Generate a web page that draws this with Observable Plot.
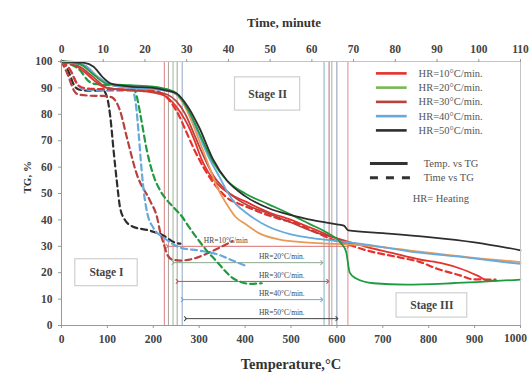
<!DOCTYPE html>
<html>
<head>
<meta charset="utf-8">
<script src="https://cdn.jsdelivr.net/npm/d3@7"></script>
<script src="https://cdn.jsdelivr.net/npm/@observablehq/plot@0.6"></script>
<style>
  html, body { margin: 0; padding: 0; background: #fff; }
  #chart { width: 530px; height: 381px; }
</style>
</head>
<body>
<div id="chart"></div>
<script>
// ---------- DATA ----------
const seriesNames = ["HR=10°C/min.", "HR=20°C/min.", "HR=30°C/min.", "HR=40°C/min.", "HR=50°C/min."];

// Temperature (°C) vs TG (%) — solid curves
const hr10Temp = [[0,100],[30,98.5],[50,96],[70,93],[90,90.5],[120,89.5],[160,89],[200,88.2],[225,87],[245,84],[260,80.5],[275,76],[290,70],[305,63],[320,58],[340,53.5],[370,49.5],[400,47],[450,43],[500,40],[550,36.5],[600,33],[620,32],[660,30],[720,27.5],[780,25],[830,23.5],[870,21.5],[905,19],[930,17],[948,17]];
const hr20Temp = [[0,100],[40,99],[70,95],[100,91.5],[150,91],[200,90.5],[230,89.5],[250,88],[275,82],[300,73],[330,62],[360,55],[400,50],[450,46],[500,42],[540,38.5],[580,35],[610,31],[620,28],[628,20],[640,18],[680,16],[750,15.5],[850,16],[1000,17.4]];
const hr30Temp = [[0,100],[40,98],[70,94],[100,90],[150,89.2],[200,88.5],[230,87.5],[250,85],[270,80],[290,72],[310,64],[330,57],[360,51],[400,46],[450,42.5],[500,39],[550,35.5],[600,33],[630,31],[645,30.5]];
const hr40Temp = [[0,100],[50,98.5],[80,94],[110,91],[150,90],[200,89.5],[240,88.5],[260,86],[280,80],[300,72],[320,64],[345,56],[360,51],[380,46],[400,43],[450,37.5],[500,34.5],[550,33],[600,32],[650,31],[760,28],[880,25.8],[1000,23.3]];
const extraTemp = [[0,100],[50,98.5],[80,94],[110,91],[150,90],[200,89.5],[240,88.5],[262,85],[282,78],[300,70],[320,61],[340,52],[360,46],[380,41],[400,38.5],[430,35],[476,32.5],[530,31.5],[580,31],[650,30.5],[760,28.4],[880,26],[1000,24]];
const hr50Temp = [[0,100],[50,99.5],[70,98],[90,94],[110,91.5],[150,90.5],[200,90],[230,89],[250,88],[275,83],[300,75],[330,63],[360,55],[400,49],[450,44.5],[500,41.8],[550,39.8],[600,38.3],[615,37.8],[625,36],[700,35],[800,33.5],[900,31.5],[1000,28.5]];

// Time (minute) vs TG (%) — dashed curves
const hr10Time = [[0,100],[2,97],[4,91],[6,89.8],[10,89.5],[20,89.2],[24,88],[26,85],[28,80],[30,73],[32,66],[34,60],[36,55],[38,51],[40,48],[42,46.5],[45,44.5],[48.4,42.4],[52,40.5],[56.5,38.5],[60,36],[65,32.5],[69,30.5],[73,28.5],[81,25.8],[86,24],[90,21.5],[95.5,19],[98.6,17.5],[104,17.4]];
const hr20Time = [[0,100],[2,99],[4.5,96.6],[6.2,93],[8,91.5],[12,91],[17,90.5],[18,87],[19,79],[20.5,66],[22,57],[23.7,51],[25,48],[27,44.5],[29,41],[30,38.6],[33,32],[35,28],[37,24.6],[39,21],[41,18],[43,16.5],[45,15.8],[48,16]];
const hr30Time = [[0,100],[1.5,95],[3,89],[4,87.5],[8,87],[10,87],[12,86.5],[13,85],[14,81.5],[15.7,71],[18,57.5],[21.3,47],[22.9,41],[23.7,35],[24.5,31],[25.3,27],[26.5,25],[28.5,24.6],[31.6,25.3],[36.4,28.4],[41,32]];
const hr40Time = [[0,100],[2,97],[4,91],[5,89.5],[10,89],[17,89],[17.8,84],[18.5,72.6],[19,62.5],[19.7,51],[20.5,43],[22,37],[24.5,33.3],[28.5,29.5],[33,28.4],[37.3,27],[41,24.6],[44,22.7]];
const hr50Time = [[0,100],[1,98.5],[2,95],[3,91],[4,89.5],[6,89],[10,89],[11,86],[11.7,79],[12.5,66],[13.3,54],[14,45],[15,40.5],[17,37.5],[21,36],[24.5,34],[27,31.5],[28.5,31]];

// Stage boundary temperatures (°C)
const stageStartTemps = [224, 233, 243, 252, 263];
const stageEndTemps = [572, 583, 589, 600, 624];

// Stage II duration arrows: [label, from °C, to °C, TG level]
const arrowLabels = ["HR=10°C/min", "HR=20°C/min.", "HR=30°C/min.", "HR=40°C/min.", "HR=50°C/min."];
const arrowFrom = [230, 243, 252, 263, 270];
const arrowTo = [624, 567, 580, 567, 600];
const arrowLevel = [30, 23.8, 16.7, 9.8, 2.6];

const stageNames = ["Stage I", "Stage II", "Stage III"];
const stageTemp = [98, 449, 807];
const stageTG = [20, 87.7, 7.6];

const tempTicks = d3.range(0, 1001, 100);
const timeTicks = d3.range(0, 111, 10);
const tgTicks = d3.range(0, 101, 10);

// ---------- STYLES ----------
const C = {
  r10: "#e5322d", g20: "#1f9a3e", r30: "#b8413f", b40: "#66a9dc", k50: "#2e2e2e", orange: "#e99a55",
  lg20: "#79b955"
};
const minToX = t => t * 1000 / 110;

const solidSets = [
  {pts: hr10Temp, c: C.r10}, {pts: hr30Temp, c: C.r30}, {pts: extraTemp, c: C.orange},
  {pts: hr40Temp, c: C.b40}, {pts: hr20Temp, c: C.g20}, {pts: hr50Temp, c: C.k50}
];
const dashedSets = [
  {pts: hr50Time, c: C.k50}, {pts: hr30Time, c: C.r30}, {pts: hr40Time, c: C.b40},
  {pts: hr20Time, c: C.g20}, {pts: hr10Time, c: C.r10}
];
const startColors = ["#d98080", "#b0a0a0", "#9bb89b", "#a0a0a0", "#8fa8c4"];
const endColors = ["#7fb3c2", "#b47474", "#aaaaaa", "#8a96b0", "#d98c8c"];
const arrowColors = ["#d97070", "#8fa88f", "#c05050", "#6ea6d6", "#444"];

const legendColors = [C.r10, C.lg20, C.r30, C.b40, C.k50];

const marks = [];

// vertical boundary lines
stageStartTemps.forEach((t, i) => marks.push(Plot.ruleX([t], {stroke: startColors[i], strokeWidth: 1})));
stageEndTemps.forEach((t, i) => marks.push(Plot.ruleX([t], {stroke: endColors[i], strokeWidth: 1})));

// arrows
const arrowRows = arrowLabels.map((l, i) => ({l, a: arrowFrom[i], b: arrowTo[i], y: arrowLevel[i], c: arrowColors[i]}));
marks.push(Plot.link(arrowRows, {x1: "a", x2: "b", y1: "y", y2: "y", stroke: d => d.c, strokeWidth: 1, markerStart: "arrow", markerEnd: "arrow"}));
marks.push(Plot.text(arrowRows.slice(0, 1), {x: d => d.a + 128, y: "y", text: "l", dy: -6, fontSize: 7.5, fill: "#444"}));
marks.push(Plot.text(arrowRows.slice(1), {x: d => 480, y: "y", text: "l", dy: -6, fontSize: 7.5, fill: "#444"}));

// curves
dashedSets.forEach(s => marks.push(Plot.line(s.pts, {x: d => minToX(d[0]), y: d => d[1], stroke: s.c, strokeWidth: 2.2, strokeDasharray: "6,4", curve: "monotone-x"})));
solidSets.forEach(s => marks.push(Plot.line(s.pts, {x: d => d[0], y: d => d[1], stroke: s.c, strokeWidth: 1.8, curve: "monotone-x"})));

// stage boxes
const stageRows = stageNames.map((n, i) => ({n, x: stageTemp[i], y: stageTG[i]}));
const halfW = [68, 71, 77], halfH = [5.1, 6.3, 4.6];
marks.push(Plot.rect(stageRows, {x1: (d, i) => d.x - halfW[i], x2: (d, i) => d.x + halfW[i], y1: (d, i) => d.y - halfH[i], y2: (d, i) => d.y + halfH[i], fill: "white", stroke: "#cfcfcf", strokeWidth: 1.2}));
marks.push(Plot.text(stageRows, {x: "x", y: "y", text: "n", fontSize: 11.5, fontWeight: "bold", fill: "#444"}));

// legend (inside plot)
const legRows = seriesNames.map((n, i) => ({n, y: 95.5 - i * 5.4, c: legendColors[i]}));
marks.push(Plot.link(legRows, {x1: 685, x2: 752, y1: "y", y2: "y", stroke: d => d.c, strokeWidth: 2.6}));
marks.push(Plot.text(legRows, {x: 778, y: "y", text: "n", textAnchor: "start", fontSize: 10.5, fill: "#555"}));
const styleRows = [{n: "Temp. vs TG", y: 61.4}, {n: "Time vs TG", y: 56}];
marks.push(Plot.link(styleRows.slice(0, 1), {x1: 672, x2: 754, y1: "y", y2: "y", stroke: "#333", strokeWidth: 3}));
marks.push(Plot.link(styleRows.slice(1), {x1: 672, x2: 760, y1: "y", y2: "y", stroke: "#333", strokeWidth: 3, strokeDasharray: "8,8"}));
marks.push(Plot.text(styleRows, {x: 789, y: "y", text: "n", textAnchor: "start", fontSize: 10.5, fill: "#555"}));
marks.push(Plot.text(["HR= Heating"], {x: 765, y: 48, textAnchor: "start", fontSize: 10.5, fill: "#555"}));

// frame & axes
marks.push(Plot.frame({stroke: "#c4c4c4"}));
marks.push(Plot.ruleY([0], {stroke: "#999"}));
marks.push(Plot.ruleX([0], {stroke: "#999"}));
const lastTemp = tempTicks[tempTicks.length - 1];
marks.push(Plot.axisX(tempTicks, {anchor: "bottom", tickSize: 3, tickPadding: 6, fontSize: 11.5, fontWeight: "bold", stroke: "#999", fill: "#444", tickFormat: d => d === lastTemp ? "" : String(d), label: null}));
marks.push(Plot.text([lastTemp], {x: d => d, frameAnchor: "bottom", dy: 16, dx: -5, text: d => String(d), fontSize: 11.5, fontWeight: "bold", fill: "#444"}));
marks.push(Plot.axisX(timeTicks.map(minToX), {anchor: "top", tickSize: 3, tickPadding: 6, fontSize: 11.5, fontWeight: "bold", stroke: "#999", fill: "#444", tickFormat: d => String(Math.round(d * 110 / 1000)), label: null}));
marks.push(Plot.axisY(tgTicks, {anchor: "left", tickSize: 3, tickPadding: 6, fontSize: 11.5, fontWeight: "bold", stroke: "#999", fill: "#444", label: null}));

// axis titles
marks.push(Plot.text(["Time, minute"], {frameAnchor: "top", dy: -44, dx: -7, fontSize: 13, fontWeight: "bold", fill: "#333"}));
marks.push(Plot.text(["Temperature,°C"], {frameAnchor: "bottom", dy: 43, fontSize: 14.5, fontWeight: "bold", fill: "#333"}));
marks.push(Plot.text(["TG, %"], {frameAnchor: "left", dx: -34, rotate: -90, fontSize: 11, fontWeight: "bold", fill: "#333"}));

const chart = Plot.plot({
  width: 530, height: 381,
  marginTop: 61, marginBottom: 56, marginLeft: 61, marginRight: 10,
  x: {domain: [0, 1000]},
  y: {domain: [0, 100]},
  style: {fontFamily: "'Liberation Serif', 'DejaVu Serif', serif", background: "white", color: "#333"},
  marks
});
document.getElementById("chart").appendChild(chart);
</script>
</body>
</html>
